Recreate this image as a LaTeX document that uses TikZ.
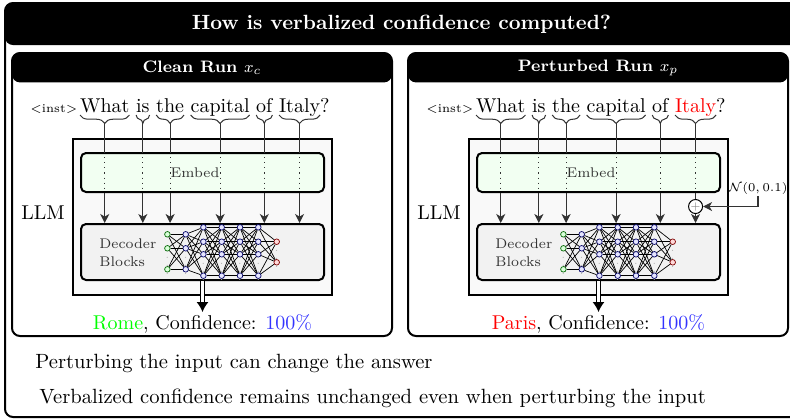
\documentclass[tikz,border=0pt]{standalone}
\usepackage{amsmath, amssymb}
\usepackage{xcolor}
\usetikzlibrary{arrows.meta}
\usetikzlibrary{positioning,decorations.pathreplacing}
\usetikzlibrary{calc}
\newcommand{\notesize}{\fontsize{10.3}{12.4}\selectfont}
\tikzset{
    outerframe/.style={draw, line width=1pt, rounded corners=4pt},
    titleband/.style={fill=black, rounded corners=4pt, text=white, inner sep=0pt,
        font=\notesize\bfseries},
    runbox/.style={draw, line width=1pt, rounded corners=4pt, fill=white},
    runhead/.style={fill=black, rounded corners=4pt, text=white, inner sep=0pt,
        font=\fontsize{8.3}{10}\selectfont\bfseries},
    word/.style={inner sep=0pt, outer sep=0pt, font=\normalsize},
    llmbox/.style={draw, line width=1pt, fill=gray!5},
    embedbox/.style={draw, line width=1pt, rounded corners=2.5pt, fill=green!5},
    decbox/.style={draw, line width=1pt, rounded corners=2.5pt, fill=gray!10},
    boxtext/.style={font=\scriptsize, text=black!80, inner sep=0pt},
    tokbrace/.style={decorate, decoration={brace, mirror, amplitude=4.2pt},
        line width=0.5pt, black!80},
    feedline/.style={line width=0.55pt, black!80},
    feeddots/.style={line width=0.55pt, black!80, dotted},
    feed/.style={line width=0.55pt, black!80, -{Stealth[length=4.5pt, width=4.5pt, inset=1.3pt]}},
    outarrow/.style={double, double distance=1.4pt, line width=0.6pt,
        -{Latex[length=5pt, width=6pt]}},
    neuron/.style={circle, draw, inner sep=0pt, minimum size=2.8pt, line width=0.35pt},
    nin/.style={neuron, draw=green!40!black, fill=green!15},
    nhid/.style={neuron, draw=blue!40!black, fill=blue!10},
    nout/.style={neuron, draw=red!50!black, fill=red!15},
    nedge/.style={line width=0.35pt, black},
    ndots/.style={font=\tiny, text=gray!60, inner sep=0pt},
    plusnode/.style={circle, draw, line width=0.5pt, fill=white, minimum size=7pt,
        inner sep=0pt, font=\tiny, text=gray},
    note/.style={inner sep=0pt, anchor=base west, font=\notesize}
}

% one run panel: #1 prefix, #2 title, #3 last word, #4 answer
\newcommand{\drawrun}[4]{%
    % Panel
    \node[runbox, minimum width=190pt, minimum height=141.5pt] (#1-box) at (202,194.5) {};
    \node[runhead, minimum width=190pt, minimum height=15pt, anchor=north] (#1-head) at (#1-box.north) {#2};
    % Prompt
    \node[word, anchor=base west] (#1-w1) at (80,112) {What};
    \node[word, base right=3.33pt of #1-w1] (#1-w2) {is};
    \node[word, base right=3.33pt of #1-w2] (#1-w3) {the};
    \node[word, base right=3.33pt of #1-w3] (#1-w4) {capital};
    \node[word, base right=3.33pt of #1-w4] (#1-w5) {of};
    \node[word, base right=3.33pt of #1-w5] (#1-w6) {#3};
    \node[word, base right=0pt of #1-w6] (#1-q) {?};
    \node[word, font=\fontsize{6}{7}\selectfont, base left=1.3pt of #1-w1] (#1-inst) {$<$inst$>$};
    % LLM
    \node[llmbox, minimum width=129.5pt, minimum height=78pt] (#1-llm) at (202.5,217) {};
    \node (#1-llmname) at (43,213) {LLM};
    \node[embedbox, minimum width=121.5pt, minimum height=19.5pt] (#1-embed) at (202.5,172.5) {};
    \node[boxtext] (#1-embedname) at (195,173) {Embed};
    \node[decbox, minimum width=121.5pt, minimum height=28pt] (#1-dec) at (202.5,252) {};
    \node[boxtext, align=left, anchor=west] (#1-decname) at (99,252.5) {Decoder\\[1pt]Blocks};
    % Braces and tokens
    \foreach \k in {1,...,6} {
        \draw[tokbrace] ([yshift=-1.5pt]#1-w\k.base west) -- ([yshift=-1.5pt]#1-w\k.base east);
        \coordinate (#1-t\k) at ([yshift=-5.7pt]#1-w\k.base);
        \draw[feedline] (#1-t\k) -- (#1-t\k |- #1-embed.north);
        \draw[feeddots] (#1-t\k |- #1-embed.north) -- (#1-t\k |- #1-embed.south);
    }
    \foreach \k in {1,...,5}
        \draw[feed] (#1-t\k |- #1-embed.south) -- (#1-t\k |- #1-dec.north);
    % Network nodes
    \foreach \i/\yy in {1/234.3, 2/248.3, 3/269.3} {
        \node[nin] (#1-a\i) at (167.4,\yy) {};
        \node[nhid] (#1-b\i) at (185.7,\yy) {};
    }
    \foreach \l in {1,...,4}
        \foreach \i/\yy in {1/227.3, 2/241.7, 3/254.3, 4/275.7}
            \node[nhid] (#1-h\l-\i) at ({203.4+(\l-1)*18.3},\yy) {};
    \foreach \i/\yy in {1/241.7, 2/262.3}
        \node[nout] (#1-o\i) at (276.7,\yy) {};
    \foreach \xx [count=\c] in {167.4, 185.7}
        \node[ndots] (#1-da\c) at (\xx,259.5) {$\vdots$};
    \foreach \l in {1,...,4}
        \node[ndots] (#1-dh\l) at ({203.4+(\l-1)*18.3},266) {$\vdots$};
    \node[ndots] (#1-do) at (276.7,253) {$\vdots$};
    % Network edges
    \foreach \i in {1,2,3}
        \foreach \j in {1,2,3}
            \draw[nedge] (#1-a\i) -- (#1-b\j);
    \foreach \i in {1,2,3}
        \foreach \j in {1,...,4}
            \draw[nedge] (#1-b\i) -- (#1-h1-\j);
    \foreach \l [count=\m from 2] in {1,2,3}
        \foreach \i in {1,...,4}
            \foreach \j in {1,...,4}
                \draw[nedge] (#1-h\l-\i) -- (#1-h\m-\j);
    \foreach \i in {1,...,4}
        \foreach \j in {1,2}
            \draw[nedge] (#1-h4-\i) -- (#1-o\j);
    % Answer
    \node[word, anchor=base] (#1-ans) at (202.5,329) {#4};
    \draw[outarrow] (#1-dec.south) -- ([yshift=1pt]#1-ans.north);
}

\begin{document}
\begin{tikzpicture}[x=0.5pt, y=-0.5pt]
    % Frame and title
    \node[outerframe, minimum width=396.5pt, minimum height=207pt] (outer) at (401.5,210) {};
    \node[titleband, minimum width=396.5pt, minimum height=21pt] (title) at (401.5,24)
        {How is verbalized confidence computed?};

    % Clean run
    \begin{scope}
        \drawrun{c}{Clean Run $x_c$}{Italy}
            {\textcolor{green}{Rome}, Confidence: \textcolor{blue!80}{100\%}}
        \draw[feed] (c-t6 |- c-embed.south) -- (c-t6 |- c-dec.north);
    \end{scope}

    % Perturbed run
    \begin{scope}[shift={(396,0)}]
        \drawrun{p}{Perturbed Run $x_p$}{\textcolor{red}{Italy}}
            {\textcolor{red}{Paris}, Confidence: \textcolor{blue!80}{100\%}}
        \coordinate (p-mid) at ($(p-embed.south)!0.45!(p-dec.north)$);
        \node[plusnode] (p-plus) at (p-t6 |- p-mid) {$+$};
        \node[inner sep=1pt, font=\fontsize{6.2}{7}\selectfont] (p-noise) at (362,188) {$\mathcal{N}(0,0.1)$};
        \draw[feedline] (p-t6 |- p-embed.south) -- (p-plus.north);
        \draw[feed] (p-plus.south) -- (p-t6 |- p-dec.north);
        \draw[feed] (p-noise.south) |- (p-plus.east);
    \end{scope}

    % Notes
    \node[note] (note1) at (35,368) {Perturbing the input can change the answer};
    \node[note] (note2) at (39,403) {Verbalized confidence remains unchanged even when perturbing the input};

    \pgfresetboundingbox
    \useasboundingbox (0,0) rectangle (790,419);
\end{tikzpicture}
\end{document}
